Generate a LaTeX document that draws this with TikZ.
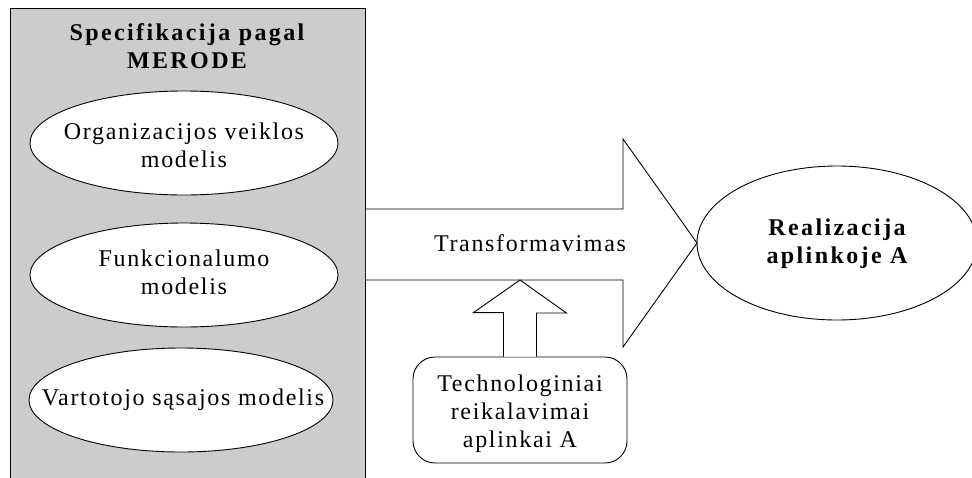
\documentclass[tikz,border=0pt]{standalone}
\usepackage{fontspec}
\setmainfont{Liberation Serif}[LetterSpace=7,BoldFeatures={LetterSpace=10}]
\begin{document}
\begin{tikzpicture}[x=1pt,y=-1pt,line width=0.9pt,
  every node/.style={font=\fontsize{24}{28}\selectfont},
  label text/.style={align=center,inner sep=0pt},
  reqbox/.style={rectangle,rounded corners=22pt,draw,fill=white,
    minimum width=214pt,minimum height=106pt,inner sep=0pt}]
\useasboundingbox (0,0) rectangle (972,477);

% specification panel, open at the bottom
\node[fill=black!20,minimum width=355pt,minimum height=480pt,inner sep=0pt,
  anchor=north west] (spec) at (10,8) {};
\draw (spec.south west) -- (spec.north west) -- (spec.north east) -- (spec.south east);
\node[label text,font=\fontsize{24}{28}\selectfont\bfseries] (title) at (187,46)
  {Specifikacija pagal\\MERODE};

% the three models
\draw[fill=white] (184,143) ellipse [x radius=154, y radius=52];
\node[label text] (org) at (184,145) {Organizacijos veiklos\\modelis};
\draw[fill=white] (184,275) ellipse [x radius=154, y radius=52];
\node[label text] (fun) at (184,272) {Funkcionalumo\\modelis};
\draw[fill=white] (181,400) ellipse [x radius=152, y radius=52];
\node[label text] (ui) at (183,400) {Vartotojo sąsajos modelis};

% target realization
\draw[fill=white] (837,243) ellipse [x radius=140, y radius=77];
\coordinate (realwest) at (697,243);
\node[label text,font=\fontsize{24}{28}\selectfont\bfseries] (real) at (837,244)
  {Realizacija\\aplinkoje A};

% technology requirements
\node[reqbox] (tech) at (520,410) {};
\node[label text] (techtext) at (520,414) {Technologiniai\\reikalavimai\\aplinkai A};

% transformation block arrow
\coordinate (st) at (spec.east |- 0,209);
\coordinate (sb) at (spec.east |- 0,280);
\draw[fill=white] (st) -- (623,209) -- (623,139) -- (realwest) -- (623,347)
  -- (623,280) -- (sb);
\node (trans) at (530,243) {Transformavimas};

% requirements feed arrow
\draw[fill=white] ([xshift=-16.5pt]tech.north) -- ++(0,-44) -- ++(-30,0)
  -- (tech.north |- sb) -- ([xshift=46.5pt]tech.north |- 0,313)
  -- ([xshift=16.5pt]tech.north |- 0,313) -- ([xshift=16.5pt]tech.north);
\end{tikzpicture}
\end{document}
